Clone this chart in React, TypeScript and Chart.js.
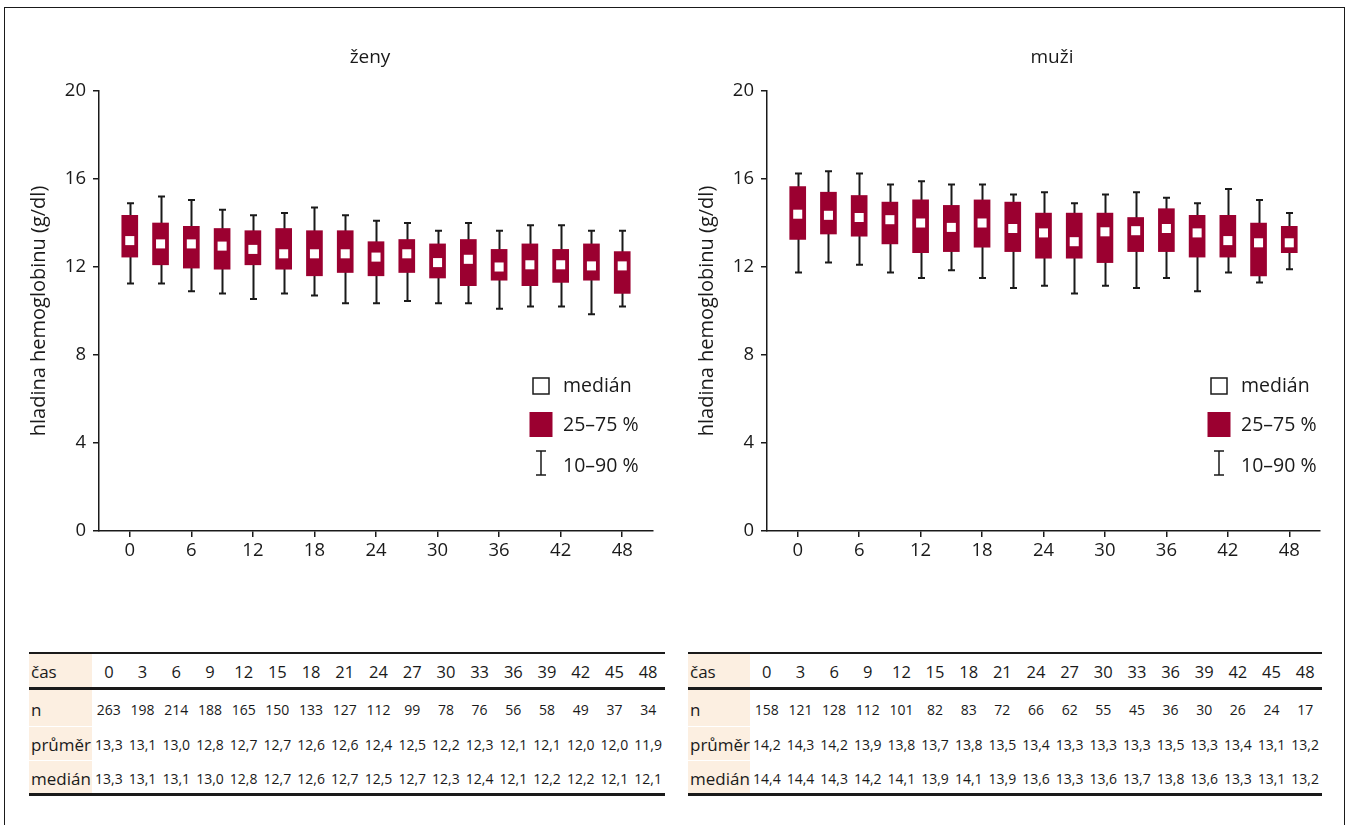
import React, { useEffect, useRef } from 'react';
import { Chart, registerables } from 'chart.js';

Chart.register(...registerables);

// ---------- data ----------
const months = [0, 3, 6, 9, 12, 15, 18, 21, 24, 27, 30, 33, 36, 39, 42, 45, 48];
const xTicks = [0, 6, 12, 18, 24, 30, 36, 42, 48];
const yTicks = [0, 4, 8, 12, 16, 20];

// ženy (women) – box plot values
const womenP90 = [14.9, 15.2, 15.05, 14.6, 14.35, 14.45, 14.7, 14.35, 14.1, 14.0, 13.65, 14.0, 13.65, 13.9, 13.9, 13.65, 13.65];
const womenQ3 = [14.35, 14.0, 13.85, 13.75, 13.65, 13.75, 13.65, 13.65, 13.15, 13.25, 13.05, 13.25, 12.8, 13.05, 12.8, 13.05, 12.7];
const womenMid = [13.2, 13.05, 13.05, 12.95, 12.8, 12.6, 12.6, 12.6, 12.45, 12.6, 12.2, 12.35, 12.0, 12.1, 12.1, 12.05, 12.05];
const womenQ1 = [12.45, 12.1, 11.95, 11.9, 12.1, 11.9, 11.6, 11.75, 11.6, 11.75, 11.5, 11.15, 11.4, 11.15, 11.3, 11.4, 10.8];
const womenP10 = [11.25, 11.25, 10.9, 10.8, 10.55, 10.8, 10.7, 10.35, 10.35, 10.45, 10.35, 10.35, 10.1, 10.2, 10.2, 9.85, 10.2];

// muži (men)
const menP90 = [16.25, 16.35, 16.25, 15.75, 15.9, 15.75, 15.75, 15.3, 15.4, 14.9, 15.3, 15.4, 15.15, 14.9, 15.55, 15.05, 14.45];
const menQ3 = [15.65, 15.4, 15.25, 14.95, 15.05, 14.8, 15.05, 14.95, 14.45, 14.45, 14.45, 14.25, 14.65, 14.35, 14.35, 14.0, 13.85];
const menMid = [14.4, 14.35, 14.25, 14.15, 14.0, 13.8, 14.0, 13.75, 13.55, 13.15, 13.6, 13.65, 13.75, 13.55, 13.2, 13.1, 13.1];
const menQ1 = [13.25, 13.5, 13.4, 13.05, 12.65, 12.7, 12.9, 12.7, 12.4, 12.4, 12.2, 12.7, 12.7, 12.45, 12.45, 11.6, 12.65];
const menP10 = [11.75, 12.2, 12.1, 11.75, 11.5, 11.85, 11.5, 11.05, 11.15, 10.8, 11.15, 11.05, 11.5, 10.9, 11.75, 11.3, 11.9];

// tables
const womenN = [263, 198, 214, 188, 165, 150, 133, 127, 112, 99, 78, 76, 56, 58, 49, 37, 34];
const womenMean = [13.3, 13.1, 13.0, 12.8, 12.7, 12.7, 12.6, 12.6, 12.4, 12.5, 12.2, 12.3, 12.1, 12.1, 12.0, 12.0, 11.9];
const womenMedian = [13.3, 13.1, 13.1, 13.0, 12.8, 12.7, 12.6, 12.7, 12.5, 12.7, 12.3, 12.4, 12.1, 12.2, 12.2, 12.1, 12.1];
const menN = [158, 121, 128, 112, 101, 82, 83, 72, 66, 62, 55, 45, 36, 30, 26, 24, 17];
const menMean = [14.2, 14.3, 14.2, 13.9, 13.8, 13.7, 13.8, 13.5, 13.4, 13.3, 13.3, 13.3, 13.5, 13.3, 13.4, 13.1, 13.2];
const menMedian = [14.4, 14.4, 14.3, 14.2, 14.1, 13.9, 14.1, 13.9, 13.6, 13.3, 13.6, 13.7, 13.8, 13.6, 13.3, 13.1, 13.2];

const rowLabels = ['čas', 'n', 'průměr', 'medián'];
const legendLabels = ['medián', '25–75 %', '10–90 %'];
const yTitle = 'hladina hemoglobinu (g/dl)';

// ---------- styles ----------
const BOX = '#9b0030';
const INK = '#1a1a1a';
const BEIGE = '#fcefe1';
const FONT = '"Open Sans", "Noto Sans", "DejaVu Sans", sans-serif';

type BoxCfg = {
  title: string;
  p10: number[]; q1: number[]; mid: number[]; q3: number[]; p90: number[];
  canvasLeft: number; canvasW: number;
  padLeft: number; yWidth: number; padRight: number;
  titleX: number; legSymX: number; legTextX: number;
};

function makePlugin(cfg: BoxCfg) {
  return {
    id: 'boxExtras',
    beforeDatasetsDraw(chart: any) {
      const { ctx, scales } = chart;
      const x = scales.x, y = scales.y;
      ctx.save();
      ctx.strokeStyle = INK;
      ctx.lineWidth = 2;
      months.forEach((m, i) => {
        const px = Math.round(x.getPixelForValue(m)) + 0.5;
        const yl = y.getPixelForValue(cfg.p10[i]);
        const yh = y.getPixelForValue(cfg.p90[i]);
        ctx.beginPath();
        ctx.moveTo(px, yl); ctx.lineTo(px, yh);
        ctx.moveTo(px - 3.5, yl); ctx.lineTo(px + 3.5, yl);
        ctx.moveTo(px - 3.5, yh); ctx.lineTo(px + 3.5, yh);
        ctx.stroke();
      });
      ctx.restore();
    },
    afterDraw(chart: any) {
      const { ctx } = chart;
      ctx.save();
      ctx.fillStyle = INK;
      ctx.font = `19px ${FONT}`;
      ctx.textAlign = 'center';
      ctx.textBaseline = 'middle';
      ctx.fillText(cfg.title, cfg.titleX, 58);

      // legend
      const sx = cfg.legSymX;
      ctx.strokeStyle = INK;
      ctx.lineWidth = 1.5;
      ctx.strokeRect(sx - 8, 378, 16, 16);
      ctx.fillStyle = BOX;
      ctx.fillRect(sx - 11.5, 412, 23, 25);
      ctx.beginPath();
      ctx.moveTo(sx, 451); ctx.lineTo(sx, 475);
      ctx.moveTo(sx - 5, 451); ctx.lineTo(sx + 5, 451);
      ctx.moveTo(sx - 5, 475); ctx.lineTo(sx + 5, 475);
      ctx.stroke();
      ctx.fillStyle = INK;
      ctx.textAlign = 'left';
      ctx.font = `19.5px ${FONT}`;
      ctx.fillText(legendLabels[0], cfg.legTextX, 386);
      ctx.fillText(legendLabels[1], cfg.legTextX, 425);
      ctx.fillText(legendLabels[2], cfg.legTextX, 466);
      ctx.restore();
    },
  };
}

const CANVAS_H = 580;

function BoxChart({ cfg }: { cfg: BoxCfg }) {
  const ref = useRef<HTMLCanvasElement>(null);
  useEffect(() => {
    const tickFont = { size: 18.5, family: FONT };
    const chart = new Chart(ref.current!, {
      type: 'bar',
      data: {
        datasets: [
          {
            type: 'scatter',
            data: months.map((m, i) => ({ x: m, y: cfg.mid[i] })),
            pointStyle: 'rect',
            pointRadius: 6.4,
            pointBackgroundColor: '#ffffff',
            pointBorderWidth: 0,
            backgroundColor: '#ffffff',
            borderWidth: 0,
            order: 0,
          } as any,
          {
            type: 'bar',
            data: months.map((m, i) => ({ x: m, y: [cfg.q1[i], cfg.q3[i]] })),
            backgroundColor: BOX,
            barThickness: 16,
            borderWidth: 0,
            borderSkipped: false,
            order: 1,
          } as any,
        ],
      },
      options: {
        animation: false,
        responsive: false,
        devicePixelRatio: 1,
        layout: { padding: { left: cfg.padLeft, top: 91, right: cfg.padRight, bottom: 0 } },
        plugins: { legend: { display: false }, tooltip: { enabled: false }, title: { display: false } },
        scales: {
          x: {
            type: 'linear',
            min: -3,
            max: 51,
            offset: false,
            afterBuildTicks: (s: any) => { s.ticks = xTicks.map((v) => ({ value: v })); },
            ticks: { font: tickFont, color: INK, padding: 3, maxRotation: 0, autoSkip: false },
            grid: { display: true, offset: false, drawOnChartArea: false, drawTicks: true, tickLength: 6, color: INK, lineWidth: 1.5 },
            border: { display: true, color: INK, width: 1.5 },
            afterFit: (s: any) => { s.height = 49; },
          },
          y: {
            type: 'linear',
            min: 0,
            max: 20,
            afterBuildTicks: (s: any) => { s.ticks = yTicks.map((v) => ({ value: v })); },
            ticks: { font: tickFont, color: INK, padding: 7 },
            grid: { display: true, drawOnChartArea: false, drawTicks: true, tickLength: 6, color: INK, lineWidth: 1.5 },
            border: { display: true, color: INK, width: 1.5 },
            title: { display: true, text: yTitle, font: { size: 20, family: FONT }, color: INK, padding: { top: 3, bottom: 3 } },
            afterFit: (s: any) => { s.width = cfg.yWidth; },
          },
        },
      } as any,
      plugins: [makePlugin(cfg)],
    });
    return () => chart.destroy();
  }, []);
  return (
    <div style={{ position: 'absolute', left: cfg.canvasLeft, top: 0, width: cfg.canvasW, height: CANVAS_H }}>
      <canvas ref={ref} width={cfg.canvasW} height={CANVAS_H} style={{ display: 'block' }} />
    </div>
  );
}

const fmt = (v: number) => v.toFixed(1).replace('.', ',');

function DataTable({ left, width, labelW, n, mean, med }: { left: number; width: number; labelW: number; n: number[]; mean: number[]; med: number[] }) {
  const colW = (width - labelW) / months.length;
  const rows: { center: number; vals: string[]; size: number }[] = [
    { center: 672, vals: months.map(String), size: 16.5 },
    { center: 710, vals: n.map(String), size: 14 },
    { center: 745, vals: mean.map(fmt), size: 14 },
    { center: 779, vals: med.map(fmt), size: 14 },
  ];
  const items: React.ReactNode[] = [];
  items.push(<div key="bg" style={{ position: 'absolute', left, top: 653, width: labelW, height: 140, background: BEIGE }} />);
  items.push(<div key="s1" style={{ position: 'absolute', left, top: 726, width: labelW, height: 1, background: '#ffffff' }} />);
  items.push(<div key="s2" style={{ position: 'absolute', left, top: 760, width: labelW, height: 1, background: '#ffffff' }} />);
  items.push(<div key="r1" style={{ position: 'absolute', left, top: 652, width, height: 1.5, background: INK }} />);
  items.push(<div key="r2" style={{ position: 'absolute', left, top: 687, width, height: 3, background: INK }} />);
  items.push(<div key="r3" style={{ position: 'absolute', left, top: 793, width, height: 2.5, background: INK }} />);
  rows.forEach((r, ri) => {
    items.push(
      <div key={`l${ri}`} style={{ position: 'absolute', left: left + 2, top: r.center - 13, height: 26, lineHeight: '26px', fontSize: 17, color: INK, whiteSpace: 'nowrap' }}>
        {rowLabels[ri]}
      </div>
    );
    r.vals.forEach((v, ci) => {
      items.push(
        <div key={`c${ri}_${ci}`} style={{ position: 'absolute', left: left + labelW + ci * colW, top: r.center - 13, width: colW, height: 26, lineHeight: '26px', textAlign: 'center', fontSize: r.size, color: INK, whiteSpace: 'nowrap' }}>
          {v}
        </div>
      );
    });
  });
  return <>{items}</>;
}

const womenCfg: BoxCfg = {
  title: 'ženy', p10: womenP10, q1: womenQ1, mid: womenMid, q3: womenQ3, p90: womenP90,
  canvasLeft: 0, canvasW: 676, padLeft: 24, yWidth: 75, padRight: 23,
  titleX: 370, legSymX: 541, legTextX: 563,
};
const menCfg: BoxCfg = {
  title: 'muži', p10: menP10, q1: menQ1, mid: menMid, q3: menQ3, p90: menP90,
  canvasLeft: 676, canvasW: 677, padLeft: 16, yWidth: 75, padRight: 33,
  titleX: 376, legSymX: 543, legTextX: 565,
};

export default function App() {
  return (
    <div style={{ position: 'fixed', left: 0, top: 0, width: 1353, height: 825, overflow: 'hidden', background: '#ffffff', fontFamily: FONT }}>
      <div style={{ position: 'absolute', left: 4, top: 7, width: 1341, height: 840, border: `1.5px solid ${INK}`, boxSizing: 'border-box' }} />
      <BoxChart cfg={womenCfg} />
      <BoxChart cfg={menCfg} />
      <DataTable left={29} width={636} labelW={63} n={womenN} mean={womenMean} med={womenMedian} />
      <DataTable left={688} width={634} labelW={62} n={menN} mean={menMean} med={menMedian} />
    </div>
  );
}
